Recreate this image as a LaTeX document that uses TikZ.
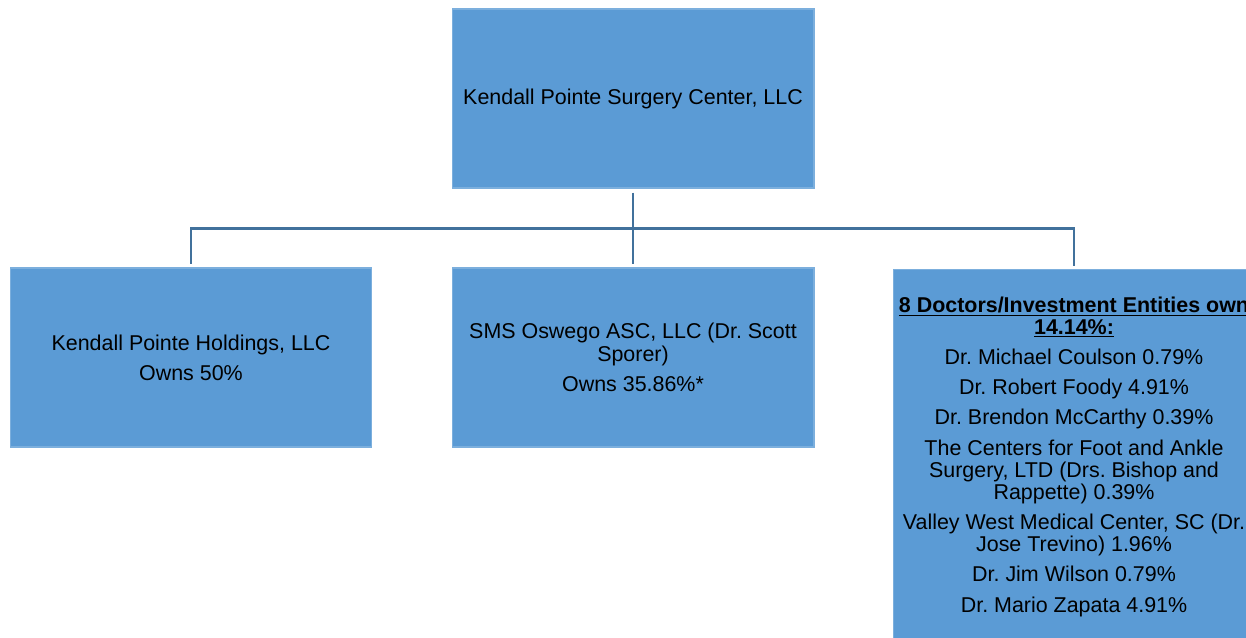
\documentclass[tikz,border=0pt]{standalone}
\usepackage{fontspec}
\setmainfont{Liberation Sans}
\usepackage{xcolor}
\usepackage{tikz}
\usetikzlibrary{positioning}
\definecolor{officeblue}{RGB}{91,155,213}
\definecolor{linkblue}{RGB}{65,113,156}
\newcommand{\pgap}{\\[4.6pt]}
\frenchspacing

\begin{document}
\begin{tikzpicture}[
    x=0.02cm, y=-0.02cm,
    every node/.style={align=center, font=\fontsize{12.2}{12.6}\selectfont},
    orgbox/.style={rectangle, fill=officeblue, draw=officeblue!80!white, line width=0.6pt, minimum width=7.24cm, minimum height=3.58cm, inner sep=0pt},
    connector/.style={draw=linkblue, line width=1.3pt}
]
\useasboundingbox (0,0) rectangle (1246,638);
\clip (0,0) rectangle (1246,638);

% Parent company
\node[orgbox] (center) at (633,98.5) {Kendall Pointe Surgery Center, LLC};

% Owners
\node[orgbox] (holdings) at (191,357.5) {Kendall Pointe Holdings, LLC\pgap Owns 50\%};
\node[orgbox] (oswego) at (633,357.5) {SMS Oswego ASC, LLC (Dr. Scott\\Sporer)\pgap Owns 35.86\%*};
\node[orgbox, minimum height=7.48cm] (doctors) at (1074,456.5) {%
    \textbf{\underline{8 Doctors/Investment Entities own}}\\\textbf{\underline{14.14\%:}}\pgap
    Dr. Michael Coulson 0.79\%\pgap
    Dr. Robert Foody 4.91\%\pgap
    Dr. Brendon McCarthy 0.39\%\pgap
    The Centers for Foot and Ankle\\Surgery, LTD (Drs. Bishop and\\Rappette) 0.39\%\pgap
    Valley West Medical Center, SC (Dr.\\Jose Trevino) 1.96\%\pgap
    Dr. Jim Wilson 0.79\%\pgap
    Dr. Mario Zapata 4.91\%};

% Connectors
\coordinate (bus) at (633,228.5);
\draw[connector, shorten <=0.08cm] (center.south) -- (bus);
\draw[connector, shorten >=0.06cm] (bus) -| (holdings.north);
\draw[connector, shorten >=0.06cm] (bus) -- (oswego.north);
\draw[connector, shorten >=0.06cm] (bus) -| (doctors.north);

\end{tikzpicture}
\end{document}
